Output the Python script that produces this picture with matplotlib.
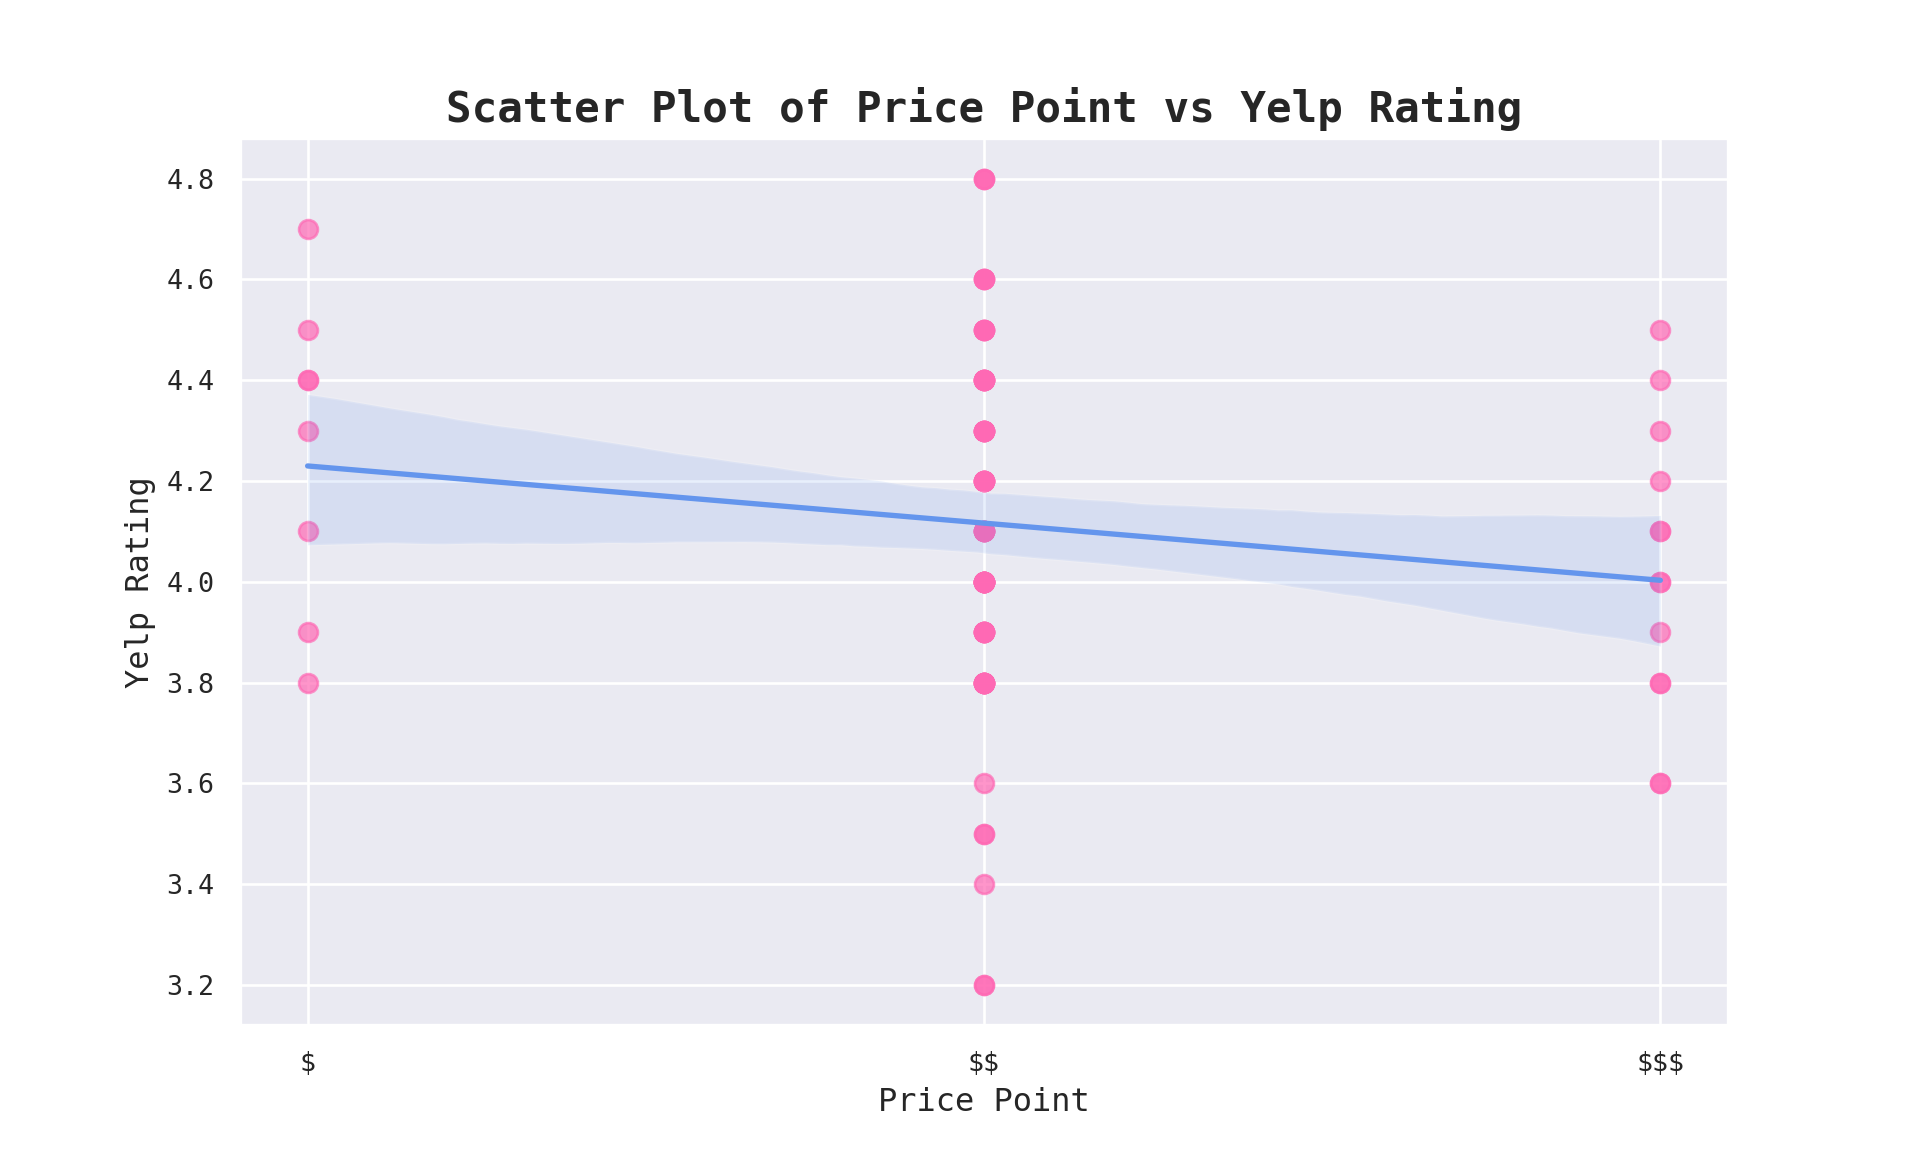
import matplotlib
matplotlib.use("Agg")
import matplotlib.pyplot as plt
import seaborn as sns
import numpy as np

# ratings, grouped by price point (0=$, 1=$$, 2=$$$)
# overlapping points can't be counted exactly; counts estimated from opacity + CI band
price_labels = [r'\$', r'\$\$', r'\$\$\$']
ratings_1 = [4.7, 4.5, 4.4, 4.4, 4.3, 4.1, 3.9, 3.8]
ratings_2_values = [4.8, 4.6, 4.5, 4.4, 4.3, 4.2, 4.1, 4.0, 3.9, 3.8, 3.6, 3.5, 3.4, 3.2]
ratings_2_counts = [3, 4, 5, 8, 8, 8, 8, 13, 8, 10, 1, 2, 1, 2]
ratings_3 = [4.5, 4.4, 4.3, 4.2, 4.1, 4.1, 4.0, 4.0, 3.9, 3.8, 3.8, 3.6, 3.6]

ratings_2 = []
for v, c in zip(ratings_2_values, ratings_2_counts):
    ratings_2 += [v] * c

x = np.array([0] * len(ratings_1) + [1] * len(ratings_2) + [2] * len(ratings_3))
y = np.array(ratings_1 + ratings_2 + ratings_3)

sns.set_theme(style='darkgrid')
plt.rcParams['font.family'] = ['DejaVu Sans Mono']

fig, ax = plt.subplots(figsize=(10, 6), dpi=192)
sns.regplot(x=x, y=y, ax=ax, seed=3,
            scatter_kws={'color': '#ff69b4', 'alpha': 0.7, 's': 50},
            line_kws={'color': '#6495ed', 'linewidth': 2})

ax.set_xticks([0, 1, 2])
ax.set_xticklabels(price_labels)
ax.set_title('Scatter Plot of Price Point vs Yelp Rating', fontsize=16, fontweight='bold')
ax.set_xlabel('Price Point', fontsize=12)
ax.set_ylabel('Yelp Rating', fontsize=12)
ax.tick_params(labelsize=10)

plt.savefig('out.png')
plt.close()
